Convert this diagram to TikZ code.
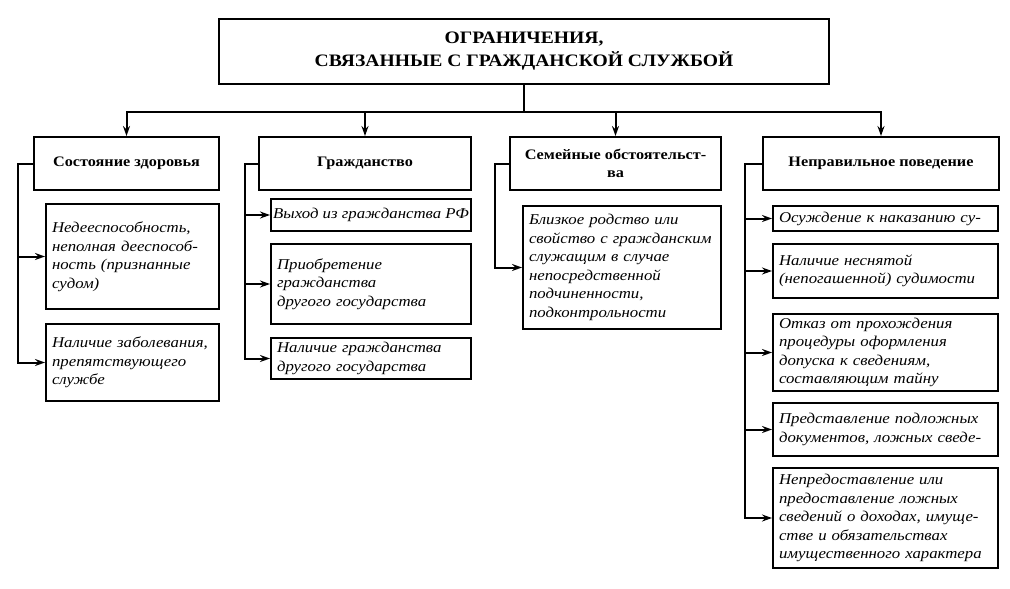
\documentclass[tikz,border=0pt]{standalone}
\usepackage{fontspec}
\setmainfont{Liberation Serif}[FakeStretch=1.12]
\usetikzlibrary{arrows.meta}
\tikzstyle{title-node}=[draw,line width=2pt,anchor=north west,align=center,inner sep=0pt,font=\bfseries\fontsize{17.5}{23}\selectfont]
\tikzstyle{head-node}=[draw,line width=2pt,anchor=north west,align=center,inner sep=0pt,font=\bfseries\fontsize{14.5}{18}\selectfont]
\tikzstyle{item-node}=[draw,line width=2pt,anchor=north west,align=left,inner xsep=6pt,inner ysep=0pt,font=\itshape\fontsize{15}{18.5}\selectfont]
\tikzstyle{black-line}=[draw=black,line width=2pt]

\begin{document}
\begin{tikzpicture}[x=1pt,y=-1pt]
        \useasboundingbox (0,0) rectangle (1010,589);
        \begin{scope}
            \node (title)[title-node,minimum width=610pt,minimum height=65pt] at (218,18) {ОГРАНИЧЕНИЯ,\\СВЯЗАННЫЕ С ГРАЖДАНСКОЙ СЛУЖБОЙ};
            \node (h1)[head-node,minimum width=185pt,minimum height=53pt] at (33,136) {Состояние здоровья};
            \node (h2)[head-node,minimum width=212pt,minimum height=53pt] at (258,136) {Гражданство};
            \node (h3)[head-node,minimum width=211pt,minimum height=53pt] at (509,136) {Семейные обстоятельст-\\ва};
            \node (h4)[head-node,minimum width=236pt,minimum height=53pt] at (762,136) {Неправильное поведение};
            \node (c11)[item-node,text width=161pt,minimum height=105pt] at (45,203) {Недееспособность,\\неполная дееспособ-\\ность (признанные\\судом)};
            \node (c12)[item-node,text width=161pt,minimum height=77pt] at (45,323) {Наличие заболевания,\\препятствующего\\службе};
            \node (c21)[item-node,minimum width=200pt,minimum height=32pt,inner xsep=1pt] at (270,198) {Выход из гражданства РФ};
            \node (c22)[item-node,text width=188pt,minimum height=80pt] at (270,243) {Приобретение\\гражданства\\другого государства};
            \node (c23)[item-node,text width=188pt,minimum height=41pt] at (270,337) {Наличие гражданства\\другого государства};
            \node (c31)[item-node,text width=186pt,minimum height=123pt] at (522,205) {Близкое родство или\\свойство с гражданским\\служащим в случае\\непосредственной\\подчиненности,\\подконтрольности};
            \node (c41)[item-node,text width=213pt,minimum height=25pt] at (772,205) {Осуждение к наказанию су-};
            \node (c42)[item-node,text width=213pt,minimum height=54pt] at (772,243) {Наличие неснятой\\(непогашенной) судимости};
            \node (c43)[item-node,text width=213pt,minimum height=77pt] at (772,313) {Отказ от прохождения\\процедуры оформления\\допуска к сведениям,\\составляющим тайну};
            \node (c44)[item-node,text width=213pt,minimum height=53pt] at (772,402) {Представление подложных\\документов, ложных сведе-};
            \node (c45)[item-node,text width=213pt,minimum height=100pt] at (772,467) {Непредоставление или\\предоставление ложных\\сведений о доходах, имуще-\\стве и обязательствах\\имущественного характера};
        \end{scope}

        \begin{scope}[>={Stealth[length=10pt,width=7pt]}, every path/.style=black-line]
            \draw (title.south) -- ++(0,27) coordinate (bar);
            \draw [->] (bar) -| (h1.north);
            \draw [->] (bar) -| (h2.north);
            \draw [->] (bar) -| (h3.north);
            \draw [->] (bar) -| (h4.north);
            \draw [->] (h1.west) -- ++(-15,0) |- (c11.west);
            \draw [->] (h1.west) -- ++(-15,0) |- (c12.west);
            \draw [->] (h2.west) -- ++(-13,0) |- (c21.west);
            \draw [->] (h2.west) -- ++(-13,0) |- (c22.west);
            \draw [->] (h2.west) -- ++(-13,0) |- (c23.west);
            \draw [->] (h3.west) -- ++(-14,0) |- (c31.west);
            \draw [->] (h4.west) -- ++(-17,0) |- (c41.west);
            \draw [->] (h4.west) -- ++(-17,0) |- (c42.west);
            \draw [->] (h4.west) -- ++(-17,0) |- (c43.west);
            \draw [->] (h4.west) -- ++(-17,0) |- (c44.west);
            \draw [->] (h4.west) -- ++(-17,0) |- (c45.west);
        \end{scope}

    \end{tikzpicture}
\end{document}
